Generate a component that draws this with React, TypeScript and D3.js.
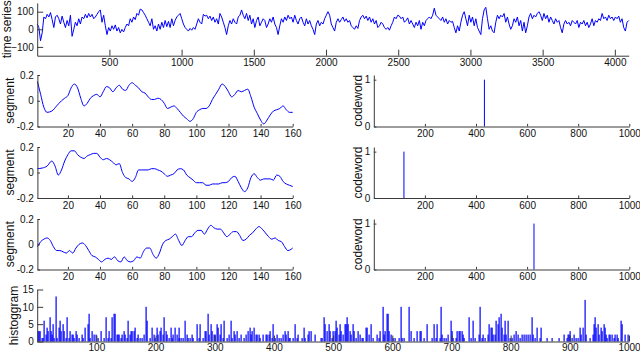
import * as d3 from "d3";
import { useEffect, useRef } from "react";

// time series at about every 11-12 samples
const tsValues = [
  30, 10, -65, -20, 70, 60, 85, 70, 95, 55, 10, 70, 80, 60, 30, 75, 40, 10, 50, 20,
  80, -40, 0, 40, 20, 60, 30, 70, 60, 85, 65, 90, 70, 85, 60, 70, 85, 100, 110, 40,
  80, 20, -30, 10, -10, 20, 0, 25, -10, 10, -20, 0, -15, 10, 30, 20, 60, 40, 70, 55,
  90, 80, 115, 110, 95, 80, 60, 40, 20, 60, 0, 20, -10, 30, 0, 40, 10, 50, 15, 45,
  10, 60, 20, 50, 70, 80, 90, 60, 30, 10, 0, -10, 5, -5, 10, 0, 30, 60, 40, 30,
  85, 75, 80, 60, 75, 50, 70, 40, 60, 30, 90, 70, 40, 10, -30, 20, 50, 30, 60, 40,
  30, 70, 80, 110, 80, 60, 90, 50, 80, 30, 60, 10, 50, 70, 20, 40, 60, 50, 10, 30,
  60, 40, 70, 30, 10, -30, 20, 60, 40, 70, 50, 80, 60, 70, 40, 80, 50, 30, 60, 70,
  40, 20, 60, 30, 50, 20, 0, -30, 30, 50, 20, 40, 30, 60, 80, 100, 80,
  30, 10, -10, 40, 60, 40, 55, 70, 45, 60, 40, 50, 20, 10, 0, 20, 5, 50, 70, 80,
  60, 75, 50, 70, 40, 60, 30, 50, 10, 20, 40, 30, 10, 0, 10, -5, 20, 40, 70, 60,
  80, 75, 60, 70, 40, 50, 65, 30, 50, 30, 10, 40, 20, 50, 0, 40, 20, 50, 60, 70,
  60, 80, 120, 80, 70, 60, 50, 70, 40, 60, 30, 50, 40, 45, 10, -20, 20, -10, 40, 80,
  100, 60, 20, 80, 40, 70, 20, 60, 10, -10, -30, 60, 110, 125, 60, 0, 20, -10, -20, 40,
  80, 60, 80, 70, 90, 40, 70, 30, 0, 20, 60, 40, 70, 20, 50, -10, 40, -20, 20, 70,
  90, 60, 80, 70, 90, 100, 80, 50, 90, 60, 80, 40, 70, 50, 30, 60, 40, 50, 10, -20,
  30, 50, 30, 40, 20, 50, 40, 30, 50, 10, 40, 30, 50, 20, 40, 10, 30, 60, 20, 50,
  40, 60, 50, 90, 60, 70, 50, 80, 60, 70, 50, 70, 60, 75, 40, 60, 10, -10, 40, 50,
];
const tsLength = 4096;

// three segments of 160 samples: [sample, value]
const segment1 = [
  [1, 0.15], [3, 0.05], [5, -0.05], [7, -0.09], [10, -0.08], [13, -0.04], [16, 0.0], [18, 0.02],
  [20, 0.04], [22, 0.1], [24, 0.13], [26, 0.1], [28, 0.02], [30, -0.04], [32, -0.02], [34, 0.02],
  [36, 0.04], [38, 0.05], [40, 0.03], [42, 0.07], [44, 0.11], [46, 0.1], [48, 0.07], [50, 0.1],
  [52, 0.12], [54, 0.09], [56, 0.08], [58, 0.12], [60, 0.14], [62, 0.12], [64, 0.1], [66, 0.07],
  [68, 0.06], [70, 0.03], [72, 0.01], [74, 0.01], [76, 0.02], [78, 0.01], [80, -0.02], [82, -0.06],
  [84, -0.05], [86, -0.04], [88, -0.06], [90, -0.09], [92, -0.12], [94, -0.14], [96, -0.16], [98, -0.14],
  [100, -0.09], [102, -0.07], [104, -0.06], [106, -0.06], [108, -0.04], [110, 0.01], [112, 0.05], [114, 0.09],
  [116, 0.13], [118, 0.11], [120, 0.07], [122, 0.03], [124, 0.05], [126, 0.08], [128, 0.07], [130, 0.08],
  [132, 0.09], [134, 0.03], [136, -0.05], [138, -0.1], [140, -0.15], [142, -0.18], [144, -0.15], [146, -0.11],
  [148, -0.08], [150, -0.07], [152, -0.06], [154, -0.04], [156, -0.07], [158, -0.09], [160, -0.09],
];
const segment2 = [
  [1, 0.03], [4, 0.035], [7, 0.05], [10, 0.09], [12, 0.05], [14, -0.02], [16, 0.02], [18, 0.09],
  [20, 0.14], [22, 0.17], [24, 0.17], [26, 0.14], [28, 0.12], [30, 0.11], [32, 0.13], [34, 0.14],
  [36, 0.15], [38, 0.15], [40, 0.12], [42, 0.1], [44, 0.11], [46, 0.1], [48, 0.08], [50, 0.06],
  [52, 0.07], [54, 0.0], [56, -0.04], [58, -0.05], [60, -0.07], [62, -0.04], [64, 0.02], [66, 0.02],
  [68, 0.02], [70, 0.02], [72, 0.03], [74, 0.03], [76, 0.02], [78, 0.01], [80, -0.01], [82, -0.03],
  [84, -0.02], [86, -0.01], [88, 0.02], [90, 0.03], [92, 0.02], [94, -0.02], [96, -0.04], [98, -0.06],
  [100, -0.08], [102, -0.08], [104, -0.08], [106, -0.1], [108, -0.1], [110, -0.09], [112, -0.09], [114, -0.09],
  [116, -0.08], [118, -0.08], [120, -0.07], [122, -0.04], [124, -0.03], [126, -0.07], [128, -0.12], [130, -0.15],
  [132, -0.12], [134, -0.04], [136, -0.01], [138, -0.04], [140, -0.06], [142, -0.05], [144, -0.05], [146, -0.05],
  [148, -0.06], [150, -0.02], [152, -0.03], [154, -0.07], [156, -0.09], [158, -0.1], [160, -0.11],
];
const segment3 = [
  [1, -0.02], [3, 0.02], [5, 0.04], [7, 0.05], [9, 0.03], [11, -0.02], [13, -0.05], [15, -0.05],
  [17, -0.06], [19, -0.07], [21, -0.05], [23, -0.07], [25, -0.03], [27, 0.0], [29, 0.01], [31, -0.01],
  [33, -0.05], [35, -0.09], [37, -0.1], [39, -0.12], [41, -0.14], [43, -0.12], [45, -0.11], [47, -0.12],
  [49, -0.1], [51, -0.13], [53, -0.14], [55, -0.1], [57, -0.13], [59, -0.14], [61, -0.13], [63, -0.1],
  [65, -0.11], [67, -0.06], [69, -0.03], [71, -0.03], [73, -0.08], [75, -0.11], [77, -0.07], [79, 0.0],
  [81, 0.03], [83, 0.04], [85, 0.06], [87, 0.08], [89, 0.03], [91, -0.01], [93, 0.03], [95, 0.06],
  [97, 0.06], [99, 0.09], [101, 0.11], [103, 0.11], [105, 0.08], [107, 0.12], [109, 0.15], [111, 0.13],
  [113, 0.12], [115, 0.12], [117, 0.09], [119, 0.06], [121, 0.08], [123, 0.1], [125, 0.1], [127, 0.07],
  [129, 0.03], [131, 0.04], [133, 0.07], [135, 0.09], [137, 0.12], [139, 0.14], [141, 0.12], [143, 0.09],
  [145, 0.06], [147, 0.04], [149, 0.05], [151, 0.03], [153, 0.02], [155, -0.02], [157, -0.05], [159, -0.04],
  [160, -0.03],
];

// index of the single 1 in each codeword
const codewordIdx = [433, 118, 627];

// histogram of codeword use: [codeword, count]
const histogram = [
  [1, 3], [3, 3], [5, 3], [8, 1], [10, 1], [12, 6], [15, 2], [17, 4], [19, 3], [21, 7], [23, 3], [25, 2],
  [26, 5], [29, 1], [32, 13], [34, 1], [37, 4], [39, 6], [41, 3], [43, 5], [46, 3], [48, 1], [51, 7], [53, 1],
  [56, 3], [58, 2], [60, 2], [62, 1], [65, 3], [67, 2], [70, 1], [76, 2], [78, 1], [81, 4], [85, 5], [88, 8],
  [90, 1], [93, 3], [96, 2], [99, 2], [102, 1], [108, 3], [113, 1], [117, 7], [119, 1], [122, 3], [124, 1],
  [127, 7], [130, 8], [132, 8], [135, 2], [137, 2], [139, 2], [142, 1], [144, 2], [147, 3], [149, 2], [151, 1],
  [154, 6], [156, 2], [159, 3], [161, 3], [163, 3], [166, 4], [168, 1], [171, 2], [174, 1], [177, 1], [180, 2],
  [184, 10], [186, 6], [190, 1], [194, 4], [197, 2], [199, 1], [202, 4], [204, 2], [207, 3], [209, 4], [212, 2],
  [215, 7], [217, 3], [220, 2], [223, 1], [226, 4], [228, 1], [230, 2], [233, 4], [236, 2], [239, 1], [240, 4],
  [243, 1], [247, 1], [250, 6], [253, 2], [255, 1], [258, 1], [261, 2], [264, 1], [270, 5], [273, 1], [275, 5],
  [280, 1], [283, 3], [285, 3], [288, 8], [291, 2], [293, 5], [296, 3], [298, 2], [301, 2], [303, 5], [306, 4],
  [309, 2], [311, 5], [314, 1], [316, 6], [320, 1], [324, 2], [327, 6], [330, 1], [333, 3], [335, 2], [337, 3],
  [341, 1], [344, 2], [349, 1], [353, 2], [356, 3], [359, 4], [361, 2], [363, 3], [367, 4], [369, 2], [371, 2],
  [374, 2], [377, 1], [382, 2], [386, 2], [388, 2], [391, 2], [394, 3], [396, 1], [399, 5], [401, 1], [405, 2],
  [408, 1], [412, 1], [415, 2], [418, 3], [421, 2], [423, 3], [425, 1], [428, 1], [432, 1], [436, 5], [439, 1],
  [441, 2], [447, 1], [450, 4], [453, 1], [457, 2], [459, 3], [462, 3], [470, 2], [479, 1], [482, 1], [485, 7],
  [487, 5], [490, 3], [493, 5], [495, 3], [498, 1], [500, 3], [503, 3], [505, 6], [507, 4], [510, 2], [512, 5],
  [514, 3], [517, 2], [520, 5], [522, 5], [524, 7], [526, 5], [529, 3], [531, 2], [533, 5], [535, 3], [539, 1],
  [542, 3], [546, 2], [548, 1], [551, 1], [555, 4], [558, 4], [561, 2], [564, 5], [567, 1], [574, 2], [577, 1],
  [580, 3], [584, 10], [586, 2], [588, 3], [591, 8], [593, 8], [595, 3], [597, 2], [601, 1], [604, 1], [611, 1],
  [614, 10], [617, 1], [620, 1], [629, 10], [632, 3], [636, 1], [642, 3], [646, 3], [649, 3], [653, 1], [659, 5],
  [667, 1], [671, 5], [674, 1], [676, 5], [680, 1], [682, 10], [684, 2], [687, 1], [691, 1], [694, 2], [699, 6],
  [701, 3], [703, 1], [707, 1], [710, 3], [712, 3], [714, 3], [717, 3], [719, 2], [721, 1], [729, 7], [733, 1],
  [736, 6], [739, 1], [746, 2], [749, 10], [752, 1], [754, 2], [757, 1], [761, 2], [764, 5], [766, 4], [769, 4],
  [771, 2], [774, 2], [776, 6], [779, 5], [781, 7], [783, 8], [785, 4], [788, 2], [791, 6], [793, 2], [796, 6],
  [799, 1], [802, 1], [806, 2], [809, 3], [812, 2], [816, 1], [819, 2], [823, 2], [826, 2], [829, 2], [833, 2],
  [836, 7], [838, 2], [842, 1], [845, 4], [849, 1], [852, 4], [861, 1], [870, 1], [881, 1], [891, 2], [895, 1],
  [897, 2], [899, 2], [901, 3], [904, 1], [907, 2], [910, 1], [914, 1], [917, 4], [919, 2], [923, 4], [925, 12],
  [927, 2], [934, 1], [939, 2], [941, 5], [943, 7], [945, 4], [948, 5], [950, 2], [952, 4], [954, 3], [957, 5],
  [959, 4], [961, 2], [963, 1], [966, 2], [968, 2], [972, 2], [975, 1], [977, 2], [979, 2], [981, 1], [986, 6],
  [989, 5], [993, 2], [999, 2],
];

const tsXTicks = [500, 1000, 1500, 2000, 2500, 3000, 3500, 4000];
const tsYTicks = [-100, 0, 100];
const segXTicks = [20, 40, 60, 80, 100, 120, 140, 160];
const segYTicks = [-0.2, 0, 0.2];
const cwXTicks = [200, 400, 600, 800, 1000];
const cwYTicks = [0, 1];
const histXTicks = [100, 200, 300, 400, 500, 600, 700, 800, 900, 1000];
const histYTicks = [0, 5, 10, 15];

const FONT = "'Liberation Sans', Arial, Helvetica, sans-serif";
const BLUE = "#0000ff";
const AXIS = "#3a3a3a";

export default function App() {
  const ref = useRef(null);

  useEffect(() => {
    if (!ref.current) return;
    const svg = d3.select(ref.current);
    svg.selectAll("*").remove();

    const width = 640,
      height = 352;
    svg.attr("width", width).attr("height", height);

    // draws the L-shaped matlab axes (ticks pointing inward)
    const drawAxes = (x, y, xt, yt, tick, yfmt, xpad = 3.4) => {
      const g = svg.append("g");
      g.append("g")
        .attr("transform", `translate(0, ${y.range()[0]})`)
        .call(d3.axisBottom(x).tickValues(xt).tickSizeInner(-tick).tickSizeOuter(0).tickPadding(xpad).tickFormat(d3.format("d")))
        .attr("color", AXIS)
        .attr("font-family", FONT)
        .attr("font-size", 10)
        .selectAll("text")
        .attr("fill", "#111");
      g.append("g")
        .attr("transform", `translate(${x.range()[0]}, 0)`)
        .call(d3.axisLeft(y).tickValues(yt).tickSizeInner(-tick).tickSizeOuter(0).tickPadding(3.5).tickFormat(yfmt))
        .attr("color", AXIS)
        .attr("font-family", FONT)
        .attr("font-size", 10)
        .selectAll("text")
        .attr("fill", "#111");
      return g;
    };

    const yLabel = (text, x, yc) => {
      svg.append("text")
        .attr("transform", `translate(${x}, ${yc}) rotate(-90)`)
        .attr("text-anchor", "middle")
        .attr("font-family", FONT)
        .attr("font-size", 12)
        .attr("fill", "#111")
        .text(text);
    };

    // time series
    const xTs = d3.scaleLinear().domain([0, tsLength]).range([37.2, 628.7]);
    const yTs = d3.scaleLinear().domain([-150, 150]).range([55.7, 2.9]);
    const step = tsLength / (tsValues.length - 1);
    svg.append("path")
      .datum(tsValues)
      .attr("fill", "none")
      .attr("stroke", BLUE)
      .attr("stroke-width", 1)
      .attr("d", d3.line().x((d, i) => xTs(i * step)).y((d) => yTs(d)));
    drawAxes(xTs, yTs, tsXTicks, tsYTicks, 6, d3.format("d"));
    yLabel("time series", 10.5, 29.3);

    // segments and codewords
    const rows = [
      [75, 126.5],
      [147, 198],
      [219, 269.5],
    ];
    const segments = [segment1, segment2, segment3];
    const segFmt = (d) => (d === 0 ? "0" : d3.format(".1f")(d).replace("−", "-"));

    rows.forEach(([top, bottom], r) => {
      const xs = d3.scaleLinear().domain([1, 160]).range([37.4, 292.7]);
      const ys = d3.scaleLinear().domain([-0.2, 0.2]).range([bottom, top]);
      svg.append("path")
        .datum(segments[r])
        .attr("fill", "none")
        .attr("stroke", BLUE)
        .attr("stroke-width", 1)
        .attr("d", d3.line().curve(d3.curveMonotoneX).x((d) => xs(d[0])).y((d) => ys(d[1])));
      drawAxes(xs, ys, segXTicks, segYTicks, 2.6, segFmt);
      yLabel("segment", 13.5, (top + bottom) / 2);

      const xc = d3.scaleLinear().domain([0, 1000]).range([373.8, 629.3]);
      const yc = d3.scaleLinear().domain([0, 1.1]).range([bottom, top]);
      const k = codewordIdx[r];
      svg.append("line")
        .attr("x1", xc(k))
        .attr("x2", xc(k))
        .attr("y1", yc(0))
        .attr("y2", yc(1))
        .attr("stroke", BLUE)
        .attr("stroke-width", 1);
      drawAxes(xc, yc, cwXTicks, cwYTicks, 2.6, d3.format("d"));
      yLabel("codeword", 361.5, (top + bottom) / 2);
    });

    // histogram
    const xh = d3.scaleLinear().domain([0, 1000]).range([37.2, 629]);
    const yh = d3.scaleLinear().domain([0, 15]).range([341.5, 289.5]);
    svg.append("g")
      .selectAll("rect")
      .data(histogram)
      .enter()
      .append("rect")
      .attr("x", (d) => Math.round(xh(d[0])) - 0.5)
      .attr("y", (d) => yh(d[1]))
      .attr("width", 1.2)
      .attr("height", (d) => yh(0) - yh(d[1]))
      .attr("fill", BLUE);
    drawAxes(xh, yh, histXTicks, histYTicks, 6, d3.format("d"), 2.2);
    yLabel("histoggram", 17.5, 315.5);
  }, []);

  return (
    <svg
      ref={ref}
      width={640}
      height={352}
      style={{ position: "absolute", left: 0, top: 0, background: "#fff" }}
    />
  );
}
